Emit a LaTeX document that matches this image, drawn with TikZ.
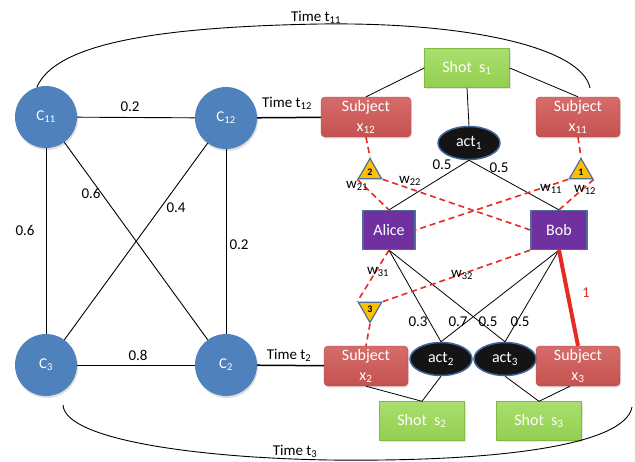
\documentclass[tikz,border=0pt]{standalone}
\usepackage{fontspec}
\setmainfont{Carlito}
\usetikzlibrary{shapes.geometric,shadows,calc}
\definecolor{cblue}{RGB}{79,129,189}
\definecolor{subjred}{RGB}{196,82,80}
\definecolor{subjtop}{RGB}{214,108,106}
\definecolor{subjedge}{RGB}{180,70,68}
\definecolor{shotgreen}{RGB}{146,208,80}
\definecolor{shottop}{RGB}{170,222,110}
\definecolor{shotedge}{RGB}{128,186,66}
\definecolor{ppurple}{RGB}{112,48,160}
\definecolor{pedge}{RGB}{79,109,154}
\definecolor{trifill}{RGB}{255,192,0}
\definecolor{dred}{RGB}{232,42,36}
\begin{document}
\begin{tikzpicture}[x=1pt,y=-1pt,
  lbl/.style={font=\fontsize{15}{18}\selectfont, inner sep=0pt},
  cnode/.style={circle, fill=cblue, minimum size=62pt, inner sep=0pt, text=white,
    font=\fontsize{15}{18}\selectfont,
    drop shadow={opacity=0.25, shadow xshift=1pt, shadow yshift=-2pt}},
  subj/.style={rectangle, rounded corners=4pt, top color=subjtop, bottom color=subjred,
    draw=subjedge, minimum height=40pt, minimum width=84pt, align=center, text=white,
    font=\fontsize{16}{20}\selectfont, inner sep=0pt,
    drop shadow={opacity=0.2, shadow xshift=1pt, shadow yshift=-1.5pt}},
  shot/.style={rectangle, top color=shottop, bottom color=shotgreen, draw=shotedge,
    minimum height=39pt, minimum width=85pt, text=white,
    font=\fontsize{16}{20}\selectfont, inner sep=0pt,
    drop shadow={opacity=0.2, shadow xshift=1pt, shadow yshift=-1.5pt}},
  actn/.style={ellipse, fill=black!92, draw=cblue!80!black, line width=1.5pt,
    minimum width=62pt, minimum height=33pt, inner sep=0pt, text=white,
    font=\fontsize{16}{20}\selectfont},
  person/.style={rectangle, fill=ppurple, draw=pedge, line width=1.2pt,
    minimum height=39pt, inner sep=0pt, text=white, font=\fontsize{16}{20}\selectfont},
  trin/.style={regular polygon, regular polygon sides=3, minimum size=27pt,
    inner sep=0pt, fill=trifill, draw=pedge, line width=1.2pt,
    font=\fontsize{10}{12}\selectfont\bfseries},
  cline/.style={line width=0.9pt},
  bline/.style={line width=0.8pt},
  dline/.style={draw=dred, line width=1.6pt, dash pattern=on 6pt off 4pt},
]
\useasboundingbox[fill=white] (0,0) rectangle (635,461);

% left graph
\node[cnode] (C11) at (46,117) {C\textsubscript{11}};
\node[cnode] (C12) at (226,118) {C\textsubscript{12}};
\node[cnode] (C3) at (46,365) {C\textsubscript{3}};
\node[cnode] (C2) at (226,365) {C\textsubscript{2}};

\draw[cline] (C11) -- (C12);
\draw[cline] (C11) -- (C3);
\draw[cline] (C12) -- (C2);
\draw[cline] (C3) -- (C2);
\draw[cline] (C11) -- (C2);
\draw[cline] (C12) -- (C3);

\node[lbl] (l1) at (130,107) {0.2};
\node[lbl] (l2) at (25,230) {0.6};
\node[lbl] (l3) at (91,193) {0.6};
\node[lbl] (l4) at (176,208) {0.4};
\node[lbl] (l5) at (239,245) {0.2};
\node[lbl] (l6) at (138,355) {0.8};

% right part
\node[shot] (s1) at (467,68) {Shot\ \ s\textsubscript{1}};
\node[shot] (s2) at (422,421) {Shot\ \ s\textsubscript{2}};
\node[shot] (s3) at (539,421) {Shot\ \ s\textsubscript{3}};

\node[subj, minimum width=90pt] (x12) at (366,117) {Subject\\x\textsubscript{12}};
\node[subj] (x11) at (578,117) {Subject\\x\textsubscript{11}};
\node[subj] (x2) at (366,366) {Subject\\x\textsubscript{2}};
\node[subj] (x3) at (578,366) {Subject\\x\textsubscript{3}};

\node[actn] (a1) at (469,143) {act\textsubscript{1}};
\node[actn] (a2) at (441,359) {act\textsubscript{2}};
\node[actn] (a3) at (505,359) {act\textsubscript{3}};

\node[person, minimum width=52pt] (alice) at (389,230) {Alice};
\node[person, minimum width=56pt] (bob) at (559,230) {Bob};

\node[trin] (t2) at (370,172) {2};
\node[trin] (t1) at (581,172) {1};
\node[trin, shape border rotate=180] (t3) at (370,309) {3};

% time links
\draw[line width=1.5pt] (C12) -- (x12);
\draw[line width=1.5pt] (C2) -- (x2);
\node[lbl] (tt12) at (287,103) {Time t\textsubscript{12}};
\node[lbl] (tt2) at (289,355) {Time t\textsubscript{2}};

\coordinate (t11s) at (C11.107);
\coordinate (t11e) at (590,88);
\draw[cline] (t11s) .. controls (55,45) and (150,27) .. (320,24)
  .. controls (470,22) and (582,48) .. (t11e);
\node[lbl] (tt11) at (316,17) {Time t\textsubscript{11}};

\coordinate (t3s) at (63,405);
\coordinate (t3e) at (632,407);
\draw[cline] (t3s) .. controls (65,440) and (200,458) .. (330,460)
  .. controls (500,462) and (625,445) .. (t3e);
\node[lbl] (tt3) at (295,451) {Time t\textsubscript{3}};

% shot links
\draw[bline] (s1.west) -- (x12.north);
\draw[bline] (s1.east) -- (x11.north);
\draw[bline] (s1.south) -- (a1.north);
\draw[bline] (x2.south) -- (s2.north);
\draw[bline] (a2.south) -- (s2.north);
\draw[bline] (a3.south) -- (s3.north);
\draw[bline] ($(x3.south)+(-8,0)$) -- (s3.north);

% act links
\draw[bline] (a1.south) -- (alice.north);
\draw[bline] (a1.south) -- (bob.north);
\draw[bline] (alice.south) -- (a2.north);
\draw[bline] (alice.south) -- (a3.north);
\draw[bline] (bob.south) -- (a2.north);
\draw[bline] (bob.south) -- (a3.north);
\node[lbl] (p1) at (442,165) {0.5};
\node[lbl] (p2) at (499,168) {0.5};
\node[lbl] (p3) at (418,322) {0.3};
\node[lbl] (p4) at (458,322) {0.7};
\node[lbl] (p5) at (488,322) {0.5};
\node[lbl] (p6) at (520,322) {0.5};

% weights
\draw[dline] (x12.south) -- (t2.corner 1);
\draw[dline] (t2.corner 2) -- (alice.north);
\draw[dline] (t2.corner 3) -- (bob.west);
\draw[dline] (x11.south) -- (t1.corner 1);
\draw[dline] (t1.corner 2) -- (alice.east);
\draw[dline] (t1.corner 3) -- (bob.north);
\draw[dline] (alice.south) -- (t3.corner 3);
\draw[dline] (t3.corner 2) -- (bob.south west);
\draw[dline] (t3.corner 1) -- (x2.north);
\draw[draw=dred, line width=4pt] (bob.south) -- (x3.north);

\node[lbl] (w21) at (357,186) {w\textsubscript{21}};
\node[lbl] (w22) at (410,181) {w\textsubscript{22}};
\node[lbl] (w11) at (551,189) {w\textsubscript{11}};
\node[lbl] (w12) at (585,190) {w\textsubscript{12}};
\node[lbl] (w31) at (378,272) {w\textsubscript{31}};
\node[lbl] (w32) at (462,275) {w\textsubscript{32}};
\node[lbl, text=dred] (one) at (586,293) {1};
\end{tikzpicture}
\end{document}
